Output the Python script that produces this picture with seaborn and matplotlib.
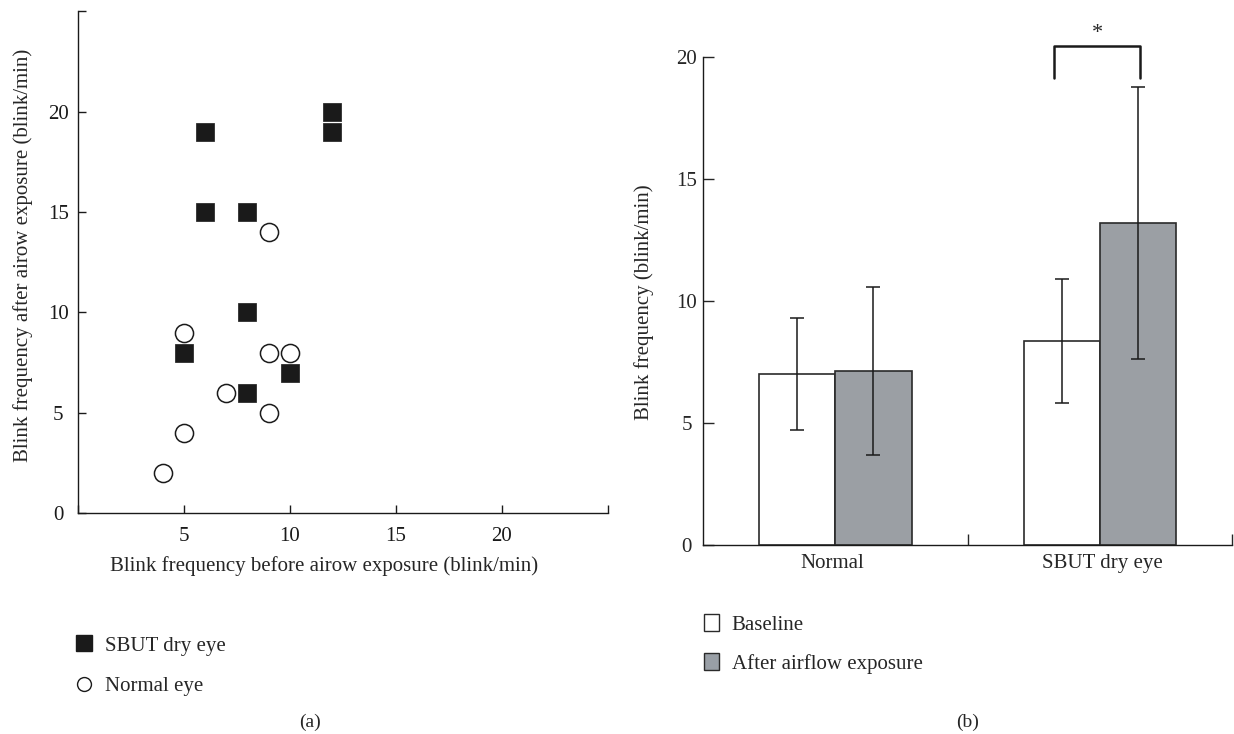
import numpy as np
import pandas as pd
import matplotlib
matplotlib.use("Agg")
import matplotlib.pyplot as plt
from matplotlib.lines import Line2D
from matplotlib.patches import Patch
import seaborn as sns

# panel (a): individual eyes
dry_before = [6, 12, 12, 6, 8, 8, 5, 10, 8]
dry_after = [19, 20, 19, 15, 15, 10, 8, 7, 6]
normal_before = [9, 5, 9, 10, 7, 9, 5, 4]
normal_after = [14, 9, 8, 8, 6, 5, 4, 2]

# panel (b): mean and SD
groups = ["Normal", "SBUT dry eye"]
conditions = ["Baseline", "After airflow exposure"]
means_baseline = [7.0, 8.35]
means_after = [7.12, 13.2]
sd_baseline = [2.3, 2.55]
sd_after = [3.45, 5.6]

GRAY = "#999fa6"
INK = "#1a1a1a"
FS = 15

sns.set_style("ticks")
plt.rcParams["font.family"] = ["Liberation Serif", "DejaVu Serif"]
plt.rcParams["font.size"] = FS

fig = plt.figure(figsize=(12.34, 7.34), dpi=100)

# ---- (a) scatter
ax1 = fig.add_axes([0.063, 0.3008, 0.4295, 0.6837])
df_a = pd.DataFrame({
    "before": dry_before + normal_before,
    "after": dry_after + normal_after,
    "group": ["SBUT dry eye"] * len(dry_before) + ["Normal eye"] * len(normal_before),
})
sns.scatterplot(data=df_a[df_a.group == "SBUT dry eye"], x="before", y="after",
                marker="s", s=150, color=INK, edgecolor=INK,
                linewidth=0.5, ax=ax1, zorder=3, legend=False)
sns.scatterplot(data=df_a[df_a.group == "Normal eye"], x="before", y="after",
                marker="o", s=170, facecolor="white", edgecolor=INK,
                linewidth=1.1, ax=ax1, zorder=3, legend=False)
ax1.set_xlim(0, 25)
ax1.set_ylim(0, 25)
ax1.set_xticks([0, 5, 10, 15, 20, 25])
ax1.set_xticklabels(["", "5", "10", "15", "20", ""])
ax1.set_yticks([0, 5, 10, 15, 20, 25])
ax1.set_yticklabels(["0", "5", "10", "15", "20", ""])
ax1.tick_params(direction="in", length=6, width=1, colors=INK, labelsize=FS, pad=10)
ax1.tick_params(axis="y", pad=14)
for lab in ax1.get_yticklabels():
    lab.set_horizontalalignment("center")
ax1.set_xlabel("Blink frequency before airow exposure (blink/min)", fontsize=FS)
ax1.xaxis.set_label_coords(0.464, -0.086)
ax1.set_ylabel("Blink frequency after airow exposure (blink/min)", fontsize=FS, va="center")
ax1.yaxis.set_label_coords(-0.104, 0.514)
sns.despine(ax=ax1)
for sp in ax1.spines.values():
    sp.set_linewidth(1)
    sp.set_color(INK)

leg_a = [
    Line2D([], [], marker="s", linestyle="none", markersize=11, color=INK),
    Line2D([], [], marker="o", linestyle="none", markersize=10,
           markerfacecolor="white", markeredgecolor=INK, markeredgewidth=1),
]
fig.legend(leg_a, ["SBUT dry eye", "Normal eye"], loc="upper left",
           bbox_to_anchor=(0.046, 0.159), frameon=False, fontsize=FS,
           handlelength=0.8, handletextpad=0.6, labelspacing=1.0)

# ---- (b) bars
ax2 = fig.add_axes([0.5698, 0.258, 0.4286, 0.6638])
df_b = pd.DataFrame({
    "group": groups * 2,
    "condition": [conditions[0]] * 2 + [conditions[1]] * 2,
    "value": means_baseline + means_after,
    "sd": sd_baseline + sd_after,
})
sns.barplot(data=df_b, x="group", y="value", hue="condition",
            palette=["white", GRAY], edgecolor="#2a2a2a", linewidth=1.2,
            width=0.576, errorbar=None, legend=False, ax=ax2, zorder=2)

# error bars at bar centres
for cont, cond in zip(ax2.containers, conditions):
    sub = df_b[df_b.condition == cond]
    xs = [p.get_x() + p.get_width() / 2 for p in cont.patches]
    ax2.errorbar(xs, sub["value"], yerr=sub["sd"], fmt="none", ecolor=INK,
                 elinewidth=1.1, capsize=5, capthick=1.1, zorder=3)

ax2.set_xlim(-0.5, 1.5)
ax2.set_ylim(0, 20)
ax2.set_yticks([0, 5, 10, 15, 20])
ax2.set_xticks([0.5, 1.5])
ax2.set_xticklabels([])
ax2.set_xticks([-0.01, 1.01], minor=True)
ax2.set_xticklabels(groups, minor=True)
ax2.tick_params(axis="x", which="minor", length=0, labelsize=FS, pad=7)
ax2.tick_params(axis="x", which="major", direction="in", length=8, width=1)
ax2.tick_params(axis="y", direction="in", length=8, width=1, labelsize=FS, pad=12)
for lab in ax2.get_yticklabels():
    lab.set_horizontalalignment("center")
ax2.set_xlabel("")
ax2.set_ylabel("Blink frequency (blink/min)", fontsize=FS, va="center")
ax2.yaxis.set_label_coords(-0.1115, 0.497)
sns.despine(ax=ax2)
for sp in ax2.spines.values():
    sp.set_linewidth(1)
    sp.set_color(INK)

# significance bracket
bx0, bx1 = 1 - 0.173, 1 + 0.152
ax2.plot([bx0, bx0, bx1, bx1], [19.15, 20.47, 20.47, 19.15], color=INK,
         lw=1.8, clip_on=False)
ax2.text((bx0 + bx1) / 2, 20.6, "*", ha="center", va="bottom", fontsize=16, clip_on=False)

leg_b = [Patch(facecolor="white", edgecolor="#2a2a2a", linewidth=1),
         Patch(facecolor=GRAY, edgecolor="#2a2a2a", linewidth=1)]
fig.legend(leg_b, conditions, loc="upper left", bbox_to_anchor=(0.555, 0.189),
           frameon=False, fontsize=FS, handlelength=0.75, handleheight=0.9,
           handletextpad=0.6, labelspacing=0.88)

fig.text(310 / 1234, 1 - 722 / 734, "(a)", ha="center", va="center", fontsize=14)
fig.text(968 / 1234, 1 - 722 / 734, "(b)", ha="center", va="center", fontsize=14)

fig.savefig("out.png", dpi=100)
